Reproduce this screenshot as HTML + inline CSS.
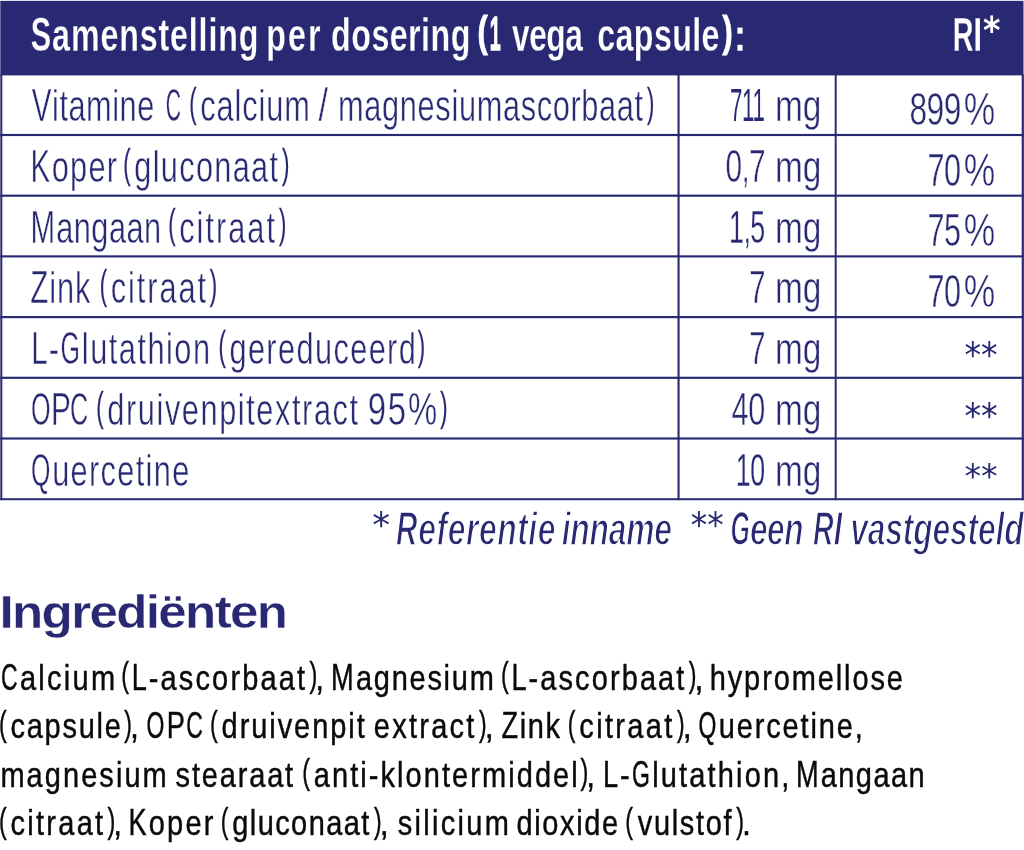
<!DOCTYPE html>
<html lang="nl">
<head>
<meta charset="utf-8">
<title>Samenstelling per dosering</title>
<style>
html,body{margin:0;padding:0;background:#fff}
body{width:1024px;height:850px;position:relative;overflow:hidden;font-family:"Liberation Sans",sans-serif;color:#282873}
.grid{position:absolute;left:0;top:0;fill:#282873}
table{width:1024px;margin:0;border-collapse:collapse;table-layout:fixed}
col.k1{width:678px}
col.k2{width:158px}
col.k3{width:188px}
th,td{padding:0;font-weight:400}
thead tr{height:75px}
tbody tr:nth-child(1){height:60px}
tbody tr:nth-child(2){height:61px}
tbody tr:nth-child(3){height:60px}
tbody tr:nth-child(4){height:61px}
tbody tr:nth-child(5){height:61px}
tbody tr:nth-child(6){height:60px}
tbody tr:nth-child(7){height:61px}
.t{position:absolute;left:0;top:0;display:block;white-space:pre;line-height:1;transform-origin:0 0}
.c{line-height:0}
.n,.o{display:inline-block;transform-origin:0 50%}
.n{transform:scaleX(.9);margin-right:-.065em}
.o{transform:scaleX(.76);margin-right:-.175em}
th .c{font-size:1.058em}
td .c{font-size:1.069em}
.fn .c{font-size:1.034em}
p .c{font-size:1.043em}
th .t{font-weight:700;color:#fff}
.fn .t{font-style:italic;font-weight:700}
h2{margin:0;font-size:inherit;font-weight:700}
p{margin:0}
p .t{color:#0a0a0a}
</style>
</head>
<body>
<svg class="grid" width="1024" height="850" viewBox="0 0 1024 850" aria-hidden="true">
<rect x="0.3" y="0.85" width="1023.2" height="74.55"/>
<rect x="0.3" y="133.93" width="1023.6" height="2.15"/>
<rect x="0.3" y="194.62" width="1023.6" height="2.15"/>
<rect x="0.3" y="255.32" width="1023.6" height="2.15"/>
<rect x="0.3" y="316.03" width="1023.6" height="2.15"/>
<rect x="0.3" y="376.73" width="1023.6" height="2.15"/>
<rect x="0.3" y="437.43" width="1023.6" height="2.15"/>
<rect x="0.3" y="498.2" width="1023.6" height="2"/>
<rect x="0.3" y="74.4" width="2" height="425.8"/>
<rect x="677.5" y="74.4" width="2.1" height="425.8"/>
<rect x="834.7" y="74.4" width="1.95" height="425.8"/>
<rect x="1021.7" y="74.4" width="2.2" height="425.8"/>
</svg>
<table>
<colgroup><col class="k1"><col class="k2"><col class="k3"></colgroup>
<thead>
<tr>
<th colspan="2"><span class="t" id="h1a" style="font-size:46px;transform:translate(30.75px,12px) scale(0.7,1);letter-spacing:1.23px;-webkit-text-stroke:0.3px #282873"><span class="c n">S</span>amenstelling</span> <span class="t" id="h1b" style="font-size:46px;transform:translate(266.24px,12px) scale(0.7,1);letter-spacing:3.024px;-webkit-text-stroke:0.3px #282873">per</span> <span class="t" id="h1c" style="font-size:46px;transform:translate(331.12px,12px) scale(0.7,1);letter-spacing:0.655px;-webkit-text-stroke:0.3px #282873">dosering</span> <span class="t" id="h1d" style="font-size:46px;transform:translate(477.62px,9.86px) scale(0.6677,0.9319);-webkit-text-stroke:1px #fff">(</span><span class="t" id="h1e" style="font-size:46px;transform:translate(489.67px,11px) scale(0.4026,1);-webkit-text-stroke:1.5px #fff"><span class="c">1</span></span> <span class="t" id="h1f" style="font-size:46px;transform:translate(511.99px,12px) scale(0.6878,1);letter-spacing:-0.6px;-webkit-text-stroke:0.3px #282873">vega</span> <span class="t" id="h1g" style="font-size:46px;transform:translate(597.27px,12px) scale(0.7,1);letter-spacing:0.553px;-webkit-text-stroke:0.3px #282873">capsule</span><span class="t" id="h1h" style="font-size:46px;transform:translate(722.59px,10.4px) scale(0.6632,0.9192);-webkit-text-stroke:1px #fff">)</span><span class="t" id="h1i" style="font-size:46px;transform:translate(733.5px,12px) scale(0.85,1);-webkit-text-stroke:0.3px #282873">:</span></th>
<th><span class="t" id="h2a" style="font-size:46px;transform:translate(952.7px,12px) scale(0.6578,1);letter-spacing:-0.6px;-webkit-text-stroke:0.3px #282873"><span class="c n">R</span><span class="c">I</span></span><span class="t" id="h2b" style="font-size:46px;transform:translate(982.96px,10.98px) scale(0.7244,0.8118);font-family:'DejaVu Sans',sans-serif">*</span></th>
</tr>
</thead>
<tbody>
<tr>
<td><span class="t" id="r0aa" style="font-size:43.9px;transform:translate(31.72px,84px) scale(0.7,1);letter-spacing:0.762px;-webkit-text-stroke:0.5px #fff"><span class="c n">V</span>itamine</span> <span class="t" id="r0ab" style="font-size:43.9px;transform:translate(165.82px,84px) scale(0.5926,1);-webkit-text-stroke:0.37px #fff"><span class="c o">C</span></span> <span class="t" id="r0ac" style="font-size:43.9px;transform:translate(189.18px,82.86px) scale(0.5009,0.9247);-webkit-text-stroke:0.3px #282873">(</span><span class="t" id="r0ad" style="font-size:43.9px;transform:translate(200.29px,84px) scale(0.7,1);letter-spacing:1.263px;-webkit-text-stroke:0.5px #fff">calcium</span> <span class="t" id="r0ae" style="font-size:43.9px;transform:translate(318.59px,84px) scale(0.7261,1);-webkit-text-stroke:0.5px #fff"><span class="c">/</span></span> <span class="t" id="r0af" style="font-size:43.9px;transform:translate(338.08px,84px) scale(0.7,1);letter-spacing:0.953px;-webkit-text-stroke:0.5px #fff">magnesiumascorbaat</span><span class="t" id="r0ag" style="font-size:43.9px;transform:translate(646.89px,82.49px) scale(0.5005,0.9278);-webkit-text-stroke:0.3px #282873">)</span></td>
<td><span class="t" id="r0ba" style="font-size:43.9px;transform:translate(729.97px,84px) scale(0.4746,1);letter-spacing:-0.6px;-webkit-text-stroke:0.07px #fff"><span class="c">711</span></span> <span class="t" id="r0bb" style="font-size:43.9px;transform:translate(775.04px,84px) scale(0.7608,1);-webkit-text-stroke:0.5px #fff">mg</span></td>
<td><span class="t" id="r0ca" style="font-size:43.9px;transform:translate(909.38px,88px) scale(0.6753,1);letter-spacing:-0.6px;-webkit-text-stroke:0.5px #fff"><span class="c">899</span></span><span class="t" id="r0cb" style="font-size:43.9px;transform:translate(963.82px,88px) scale(0.7549,1);-webkit-text-stroke:0.5px #fff"><span class="c">%</span></span></td>
</tr>
<tr>
<td><span class="t" id="r1aa" style="font-size:43.9px;transform:translate(30.56px,145px) scale(0.7,1);letter-spacing:1.87px;-webkit-text-stroke:0.5px #fff"><span class="c n">K</span>oper</span> <span class="t" id="r1ab" style="font-size:43.9px;transform:translate(123.14px,143.93px) scale(0.5014,0.9126);-webkit-text-stroke:0.3px #282873">(</span><span class="t" id="r1ac" style="font-size:43.9px;transform:translate(134.35px,145px) scale(0.7,1);letter-spacing:1.846px;-webkit-text-stroke:0.5px #fff">gluconaat</span><span class="t" id="r1ad" style="font-size:43.9px;transform:translate(281.92px,144.12px) scale(0.5121,0.9238);-webkit-text-stroke:0.3px #282873">)</span></td>
<td><span class="t" id="r1ba" style="font-size:43.9px;transform:translate(725.51px,145px) scale(0.6349,1);letter-spacing:-0.6px;-webkit-text-stroke:0.5px #fff"><span class="c">0</span>,<span class="c">7</span></span> <span class="t" id="r1bb" style="font-size:43.9px;transform:translate(775.04px,145px) scale(0.7608,1);-webkit-text-stroke:0.5px #fff">mg</span></td>
<td><span class="t" id="r1ca" style="font-size:43.9px;transform:translate(927.5px,149px) scale(0.6519,1);letter-spacing:-0.6px;-webkit-text-stroke:0.47px #fff"><span class="c">70</span></span><span class="t" id="r1cb" style="font-size:43.9px;transform:translate(963.82px,149px) scale(0.7549,1);-webkit-text-stroke:0.5px #fff"><span class="c">%</span></span></td>
</tr>
<tr>
<td><span class="t" id="r2aa" style="font-size:43.9px;transform:translate(30.62px,206px) scale(0.7,1);letter-spacing:0.645px;-webkit-text-stroke:0.5px #fff"><span class="c n">M</span>angaan</span> <span class="t" id="r2ab" style="font-size:43.9px;transform:translate(168.14px,204.53px) scale(0.5014,0.9126);-webkit-text-stroke:0.3px #282873">(</span><span class="t" id="r2ac" style="font-size:43.9px;transform:translate(179.21px,206px) scale(0.7,1);letter-spacing:2.883px;-webkit-text-stroke:0.5px #fff">citraat</span><span class="t" id="r2ad" style="font-size:43.9px;transform:translate(278.89px,203.31px) scale(0.5005,0.9278);-webkit-text-stroke:0.3px #282873">)</span></td>
<td><span class="t" id="r2ba" style="font-size:43.9px;transform:translate(729.07px,206px) scale(0.5721,1);letter-spacing:-0.6px;-webkit-text-stroke:0.29px #fff"><span class="c">1</span>,<span class="c">5</span></span> <span class="t" id="r2bb" style="font-size:43.9px;transform:translate(775.04px,206px) scale(0.7608,1);-webkit-text-stroke:0.5px #fff">mg</span></td>
<td><span class="t" id="r2ca" style="font-size:43.9px;transform:translate(927.41px,209px) scale(0.6523,1);letter-spacing:-0.6px;-webkit-text-stroke:0.5px #fff"><span class="c">75</span></span><span class="t" id="r2cb" style="font-size:43.9px;transform:translate(963.82px,209px) scale(0.7549,1);-webkit-text-stroke:0.5px #fff"><span class="c">%</span></span></td>
</tr>
<tr>
<td><span class="t" id="r3aa" style="font-size:43.9px;transform:translate(30.35px,266px) scale(0.7,1);letter-spacing:1.352px;-webkit-text-stroke:0.5px #fff"><span class="c n">Z</span>ink</span> <span class="t" id="r3ab" style="font-size:43.9px;transform:translate(99.69px,264.38px) scale(0.4991,0.9347);-webkit-text-stroke:0.3px #282873">(</span><span class="t" id="r3ac" style="font-size:43.9px;transform:translate(110.84px,266px) scale(0.7,1);letter-spacing:2.725px;-webkit-text-stroke:0.5px #fff">citraat</span><span class="t" id="r3ad" style="font-size:43.9px;transform:translate(209.73px,264.51px) scale(0.5047,0.9377);-webkit-text-stroke:0.3px #282873">)</span></td>
<td><span class="t" id="r3ba" style="font-size:43.9px;transform:translate(749.18px,266px) scale(0.6223,1);-webkit-text-stroke:0.44px #fff"><span class="c">7</span></span> <span class="t" id="r3bb" style="font-size:43.9px;transform:translate(775.04px,266px) scale(0.7608,1);-webkit-text-stroke:0.5px #fff">mg</span></td>
<td><span class="t" id="r3ca" style="font-size:43.9px;transform:translate(927.5px,270px) scale(0.6519,1);letter-spacing:-0.6px;-webkit-text-stroke:0.47px #fff"><span class="c">70</span></span><span class="t" id="r3cb" style="font-size:43.9px;transform:translate(963.82px,270px) scale(0.7549,1);-webkit-text-stroke:0.5px #fff"><span class="c">%</span></span></td>
</tr>
<tr>
<td><span class="t" id="r4aa" style="font-size:43.9px;transform:translate(31.22px,327px) scale(0.7,1);letter-spacing:2.132px;-webkit-text-stroke:0.5px #fff"><span class="c n">L</span>-<span class="c o">G</span>lutathion</span> <span class="t" id="r4ab" style="font-size:43.9px;transform:translate(218.41px,325.92px) scale(0.5037,0.9157);-webkit-text-stroke:0.3px #282873">(</span><span class="t" id="r4ac" style="font-size:43.9px;transform:translate(229.41px,327px) scale(0.7,1);letter-spacing:1.985px;-webkit-text-stroke:0.5px #fff">gereduceerd</span><span class="t" id="r4ad" style="font-size:43.9px;transform:translate(417.78px,325.45px) scale(0.5049,0.9393);-webkit-text-stroke:0.3px #282873">)</span></td>
<td><span class="t" id="r4ba" style="font-size:43.9px;transform:translate(749.18px,327px) scale(0.6223,1);-webkit-text-stroke:0.44px #fff"><span class="c">7</span></span> <span class="t" id="r4bb" style="font-size:43.9px;transform:translate(775.04px,327px) scale(0.7608,1);-webkit-text-stroke:0.5px #fff">mg</span></td>
<td><span class="t" id="r4ca" style="font-size:43.9px;transform:translate(964.47px,337.67px) scale(0.7567,0.7946);font-family:'DejaVu Sans',sans-serif;font-weight:400">**</span></td>
</tr>
<tr>
<td><span class="t" id="r5aa" style="font-size:43.9px;transform:translate(31.1px,388px) scale(0.7068,1);letter-spacing:-0.6px;-webkit-text-stroke:0.5px #fff"><span class="c o">O</span><span class="c n">P</span><span class="c o">C</span></span> <span class="t" id="r5ab" style="font-size:43.9px;transform:translate(96.15px,386.18px) scale(0.5053,0.9392);-webkit-text-stroke:0.3px #282873">(</span><span class="t" id="r5ac" style="font-size:43.9px;transform:translate(107.36px,388px) scale(0.7,1);letter-spacing:2.254px;-webkit-text-stroke:0.5px #fff">druivenpitextract</span> <span class="t" id="r5ad" style="font-size:43.9px;transform:translate(367.64px,388px) scale(0.7,1);letter-spacing:2.744px;-webkit-text-stroke:0.5px #fff"><span class="c">95%</span></span><span class="t" id="r5ae" style="font-size:43.9px;transform:translate(440.18px,386.36px) scale(0.501,0.9232);-webkit-text-stroke:0.3px #282873">)</span></td>
<td><span class="t" id="r5ba" style="font-size:43.9px;transform:translate(731.49px,388px) scale(0.6527,1);letter-spacing:-0.6px;-webkit-text-stroke:0.5px #fff"><span class="c">40</span></span> <span class="t" id="r5bb" style="font-size:43.9px;transform:translate(775.04px,388px) scale(0.7608,1);-webkit-text-stroke:0.5px #fff">mg</span></td>
<td><span class="t" id="r5ca" style="font-size:43.9px;transform:translate(964.5px,397.91px) scale(0.7564,0.8142);font-family:'DejaVu Sans',sans-serif;font-weight:400">**</span></td>
</tr>
<tr>
<td><span class="t" id="r6aa" style="font-size:43.9px;transform:translate(31px,449px) scale(0.7,1);letter-spacing:1.913px;-webkit-text-stroke:0.5px #fff"><span class="c o">Q</span>uercetine</span></td>
<td><span class="t" id="r6ba" style="font-size:43.9px;transform:translate(735.65px,449px) scale(0.5683,1);letter-spacing:-0.6px;-webkit-text-stroke:0.28px #fff"><span class="c">10</span></span> <span class="t" id="r6bb" style="font-size:43.9px;transform:translate(775.04px,449px) scale(0.7608,1);-webkit-text-stroke:0.5px #fff">mg</span></td>
<td><span class="t" id="r6ca" style="font-size:43.9px;transform:translate(964.51px,458.85px) scale(0.7563,0.7843);font-family:'DejaVu Sans',sans-serif;font-weight:400">**</span></td>
</tr>
</tbody>
</table>
<div class="fn"><span class="t" id="fna" style="font-size:46.8px;transform:translate(372.24px,507.52px) scale(0.7616,0.763);font-family:'DejaVu Sans',sans-serif;font-style:normal;font-weight:400">*</span> <span class="t" id="fnb" style="font-size:46.8px;transform:translate(395.99px,506px) scale(0.68,1);letter-spacing:0.853px;-webkit-text-stroke:1.6px #fff"><span class="c n">R</span>eferentie</span> <span class="t" id="fnc" style="font-size:46.8px;transform:translate(561.66px,506px) scale(0.68,1);letter-spacing:-0.304px;-webkit-text-stroke:1.6px #fff">inname</span> <span class="t" id="fnd" style="font-size:46.8px;transform:translate(690.84px,507.58px) scale(0.703,0.749);font-family:'DejaVu Sans',sans-serif;font-style:normal;font-weight:400">**</span> <span class="t" id="fne" style="font-size:46.8px;transform:translate(730.62px,506px) scale(0.6743,1);letter-spacing:-0.6px;-webkit-text-stroke:1.6px #fff"><span class="c o">G</span>een</span> <span class="t" id="fnf" style="font-size:46.8px;transform:translate(813.04px,506px) scale(0.657,1);letter-spacing:-0.6px;-webkit-text-stroke:1.6px #fff"><span class="c n">R</span><span class="c">I</span></span> <span class="t" id="fng" style="font-size:46.8px;transform:translate(850.2px,506px) scale(0.68,1);letter-spacing:-0.235px;-webkit-text-stroke:1.6px #fff">vastgesteld</span></div>
<h2><span class="t" id="hda" style="font-size:46.5px;transform:translate(-0.52px,589px) scale(1.1,1);letter-spacing:-1.52px;-webkit-text-stroke:0.4px #fff">Ingrediënten</span></h2>
<p>
<span class="t" id="p0a" style="font-size:35.8px;transform:translate(1.07px,661px) scale(0.81,1);letter-spacing:2.814px;-webkit-text-stroke:0.45px #0a0a0a"><span class="c o">C</span>alcium</span> <span class="t" id="p0b" style="font-size:35.8px;transform:translate(121.22px,658.94px) scale(0.6442,0.9803);-webkit-text-stroke:0.45px #0a0a0a">(</span><span class="t" id="p0c" style="font-size:35.8px;transform:translate(131.8px,661px) scale(0.81,1);letter-spacing:2.636px;-webkit-text-stroke:0.45px #0a0a0a"><span class="c n">L</span>-ascorbaat</span><span class="t" id="p0d" style="font-size:35.8px;transform:translate(309.57px,658.37px) scale(0.6585,0.9892);-webkit-text-stroke:0.45px #0a0a0a">)</span><span class="t" id="p0e" style="font-size:35.8px;transform:translate(315.28px,661px) scale(0.8794,1);-webkit-text-stroke:0.45px #0a0a0a">,</span> <span class="t" id="p0f" style="font-size:35.8px;transform:translate(331.07px,661px) scale(0.81,1);letter-spacing:2.124px;-webkit-text-stroke:0.45px #0a0a0a"><span class="c n">M</span>agnesium</span> <span class="t" id="p0g" style="font-size:35.8px;transform:translate(500.89px,658.94px) scale(0.6448,0.9803);-webkit-text-stroke:0.45px #0a0a0a">(</span><span class="t" id="p0h" style="font-size:35.8px;transform:translate(511.6px,661px) scale(0.81,1);letter-spacing:2.583px;-webkit-text-stroke:0.45px #0a0a0a"><span class="c n">L</span>-ascorbaat</span><span class="t" id="p0i" style="font-size:35.8px;transform:translate(688.71px,659.29px) scale(0.6479,0.9644);-webkit-text-stroke:0.45px #0a0a0a">)</span><span class="t" id="p0j" style="font-size:35.8px;transform:translate(694.41px,661px) scale(0.9014,1);-webkit-text-stroke:0.45px #0a0a0a">,</span> <span class="t" id="p0k" style="font-size:35.8px;transform:translate(709.71px,661px) scale(0.81,1);letter-spacing:2.334px;-webkit-text-stroke:0.45px #0a0a0a">hypromellose</span>
<span class="t" id="p1a" style="font-size:35.8px;transform:translate(-1.03px,708.35px) scale(0.6424,0.9557);-webkit-text-stroke:0.45px #0a0a0a">(</span><span class="t" id="p1b" style="font-size:35.8px;transform:translate(10.5px,709px) scale(0.81,1);letter-spacing:2.133px;-webkit-text-stroke:0.45px #0a0a0a">capsule</span><span class="t" id="p1c" style="font-size:35.8px;transform:translate(124.22px,707.36px) scale(0.644,0.9892);-webkit-text-stroke:0.45px #0a0a0a">)</span><span class="t" id="p1d" style="font-size:35.8px;transform:translate(129.91px,709px) scale(0.8976,1);-webkit-text-stroke:0.45px #0a0a0a">,</span> <span class="t" id="p1e" style="font-size:35.8px;transform:translate(146.56px,709px) scale(0.81,1);letter-spacing:1.993px;-webkit-text-stroke:0.45px #0a0a0a"><span class="c o">O</span><span class="c n">P</span><span class="c o">C</span></span> <span class="t" id="p1f" style="font-size:35.8px;transform:translate(209.89px,707.66px) scale(0.6452,0.9874);-webkit-text-stroke:0.45px #0a0a0a">(</span><span class="t" id="p1g" style="font-size:35.8px;transform:translate(221.62px,709px) scale(0.81,1);letter-spacing:2.38px;-webkit-text-stroke:0.45px #0a0a0a">druivenpit</span> <span class="t" id="p1h" style="font-size:35.8px;transform:translate(373.85px,709px) scale(0.81,1);letter-spacing:2.787px;-webkit-text-stroke:0.45px #0a0a0a">extract</span><span class="t" id="p1i" style="font-size:35.8px;transform:translate(479.03px,707.36px) scale(0.6385,0.9892);-webkit-text-stroke:0.45px #0a0a0a">)</span><span class="t" id="p1j" style="font-size:35.8px;transform:translate(484.81px,709px) scale(0.9059,1);-webkit-text-stroke:0.45px #0a0a0a">,</span> <span class="t" id="p1k" style="font-size:35.8px;transform:translate(501.55px,709px) scale(0.81,1);letter-spacing:2.026px;-webkit-text-stroke:0.45px #0a0a0a"><span class="c n">Z</span>ink</span> <span class="t" id="p1l" style="font-size:35.8px;transform:translate(567.87px,708.29px) scale(0.6422,0.9644);-webkit-text-stroke:0.45px #0a0a0a">(</span><span class="t" id="p1m" style="font-size:35.8px;transform:translate(579.27px,709px) scale(0.81,1);letter-spacing:2.911px;-webkit-text-stroke:0.45px #0a0a0a">citraat</span><span class="t" id="p1n" style="font-size:35.8px;transform:translate(677.03px,707.36px) scale(0.6385,0.9892);-webkit-text-stroke:0.45px #0a0a0a">)</span><span class="t" id="p1o" style="font-size:35.8px;transform:translate(682.81px,709px) scale(0.9059,1);-webkit-text-stroke:0.45px #0a0a0a">,</span> <span class="t" id="p1p" style="font-size:35.8px;transform:translate(698.56px,709px) scale(0.81,1);letter-spacing:2.319px;-webkit-text-stroke:0.45px #0a0a0a"><span class="c o">Q</span>uercetine,</span>
<span class="t" id="p2a" style="font-size:35.8px;transform:translate(0.39px,758px) scale(0.81,1);letter-spacing:2.539px;-webkit-text-stroke:0.45px #0a0a0a">magnesium</span> <span class="t" id="p2b" style="font-size:35.8px;transform:translate(175.55px,758px) scale(0.81,1);letter-spacing:2.261px;-webkit-text-stroke:0.45px #0a0a0a">stearaat</span> <span class="t" id="p2c" style="font-size:35.8px;transform:translate(302.22px,755.94px) scale(0.6442,0.9803);-webkit-text-stroke:0.45px #0a0a0a">(</span><span class="t" id="p2d" style="font-size:35.8px;transform:translate(313.77px,758px) scale(0.81,1);letter-spacing:2.55px;-webkit-text-stroke:0.45px #0a0a0a">anti-klontermiddel</span><span class="t" id="p2e" style="font-size:35.8px;transform:translate(580.57px,755.37px) scale(0.6585,0.9892);-webkit-text-stroke:0.45px #0a0a0a">)</span><span class="t" id="p2f" style="font-size:35.8px;transform:translate(586.28px,758px) scale(0.8794,1);-webkit-text-stroke:0.45px #0a0a0a">,</span> <span class="t" id="p2g" style="font-size:35.8px;transform:translate(602.93px,758px) scale(0.81,1);letter-spacing:2.662px;-webkit-text-stroke:0.45px #0a0a0a"><span class="c n">L</span>-<span class="c o">G</span>lutathion,</span> <span class="t" id="p2h" style="font-size:35.8px;transform:translate(796.07px,758px) scale(0.81,1);letter-spacing:1.772px;-webkit-text-stroke:0.45px #0a0a0a"><span class="c n">M</span>angaan</span>
<span class="t" id="p3a" style="font-size:35.8px;transform:translate(-1.03px,804.86px) scale(0.6424,0.9557);-webkit-text-stroke:0.45px #0a0a0a">(</span><span class="t" id="p3b" style="font-size:35.8px;transform:translate(10.5px,806px) scale(0.81,1);letter-spacing:2.805px;-webkit-text-stroke:0.45px #0a0a0a">citraat</span><span class="t" id="p3c" style="font-size:35.8px;transform:translate(107.57px,804.21px) scale(0.6585,0.9892);-webkit-text-stroke:0.45px #0a0a0a">)</span><span class="t" id="p3d" style="font-size:35.8px;transform:translate(113.28px,806px) scale(0.8794,1);-webkit-text-stroke:0.45px #0a0a0a">,</span> <span class="t" id="p3e" style="font-size:35.8px;transform:translate(128.53px,806px) scale(0.81,1);letter-spacing:2.628px;-webkit-text-stroke:0.45px #0a0a0a"><span class="c n">K</span>oper</span> <span class="t" id="p3f" style="font-size:35.8px;transform:translate(220.87px,804.69px) scale(0.6422,0.9644);-webkit-text-stroke:0.45px #0a0a0a">(</span><span class="t" id="p3g" style="font-size:35.8px;transform:translate(232.26px,806px) scale(0.81,1);letter-spacing:1.746px;-webkit-text-stroke:0.45px #0a0a0a">gluconaat</span><span class="t" id="p3h" style="font-size:35.8px;transform:translate(374.03px,804.21px) scale(0.6385,0.9892);-webkit-text-stroke:0.45px #0a0a0a">)</span><span class="t" id="p3i" style="font-size:35.8px;transform:translate(379.81px,806px) scale(0.9059,1);-webkit-text-stroke:0.45px #0a0a0a">,</span> <span class="t" id="p3j" style="font-size:35.8px;transform:translate(397.73px,806px) scale(0.81,1);letter-spacing:2.851px;-webkit-text-stroke:0.45px #0a0a0a">silicium</span> <span class="t" id="p3k" style="font-size:35.8px;transform:translate(516.52px,806px) scale(0.81,1);letter-spacing:1.998px;-webkit-text-stroke:0.45px #0a0a0a">dioxide</span> <span class="t" id="p3l" style="font-size:35.8px;transform:translate(625.22px,804.38px) scale(0.6442,0.9803);-webkit-text-stroke:0.45px #0a0a0a">(</span><span class="t" id="p3m" style="font-size:35.8px;transform:translate(637.81px,806px) scale(0.81,1);letter-spacing:2.041px;-webkit-text-stroke:0.45px #0a0a0a">vulstof</span><span class="t" id="p3n" style="font-size:35.8px;transform:translate(736.17px,804.04px) scale(0.6498,0.9982);-webkit-text-stroke:0.45px #0a0a0a">)</span><span class="t" id="p3o" style="font-size:35.8px;transform:translate(742.07px,806px) scale(0.9036,1);-webkit-text-stroke:0.45px #0a0a0a">.</span>
</p>
</body>
</html>
